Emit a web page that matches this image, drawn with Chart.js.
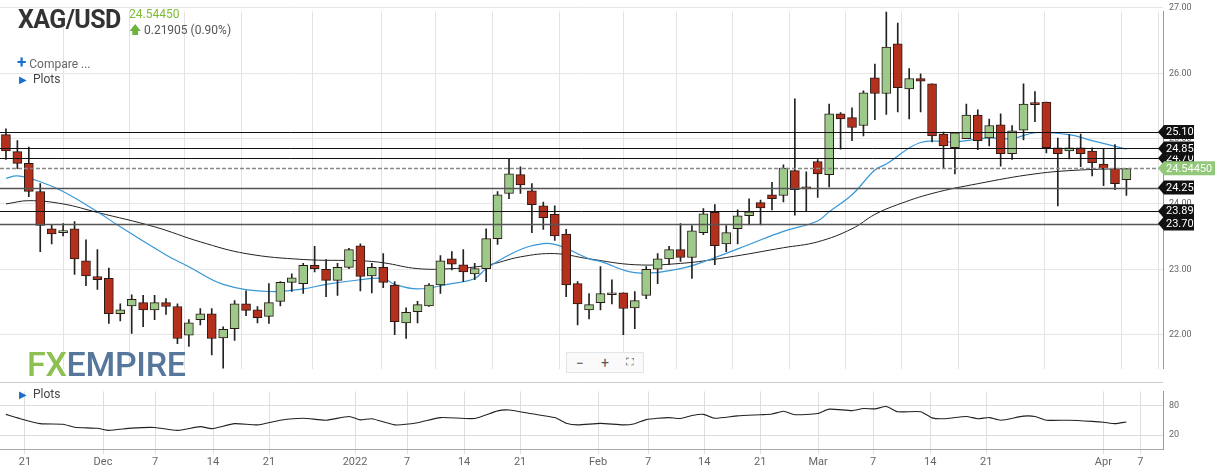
<!DOCTYPE html>
<html><head><meta charset="utf-8">
<script src="https://cdn.jsdelivr.net/npm/chart.js@4.4.1/dist/chart.umd.min.js"></script>
<style>
html,body{margin:0;padding:0;background:#fff;width:1216px;height:476px;overflow:hidden;font-family:Roboto,"Noto Sans",sans-serif;}
#wrap{position:relative;width:1216px;height:476px;}
#main{position:absolute;left:0;top:0;}
#osc{position:absolute;left:0;top:380px;}
.abs{position:absolute;white-space:nowrap;}
</style></head><body>
<div id="wrap">
<canvas id="main" width="1216" height="380"></canvas>
<canvas id="osc" width="1216" height="96"></canvas>
<div class="abs" style="left:18px;top:5px;font-size:25px;font-weight:bold;color:#333;letter-spacing:-0.6px;">XAG/USD</div>
<div class="abs" style="left:129px;top:7px;font-size:12px;color:#7cbb34;">24.54450</div>
<div class="abs" style="left:129px;top:21px;font-size:12px;color:#555;"><span style="color:#6ab43c;">&#129093;</span> 0.21905 (0.90%)</div>
<div class="abs" style="left:17px;top:52px;font-size:12px;color:#666;"><span style="color:#1a6fd0;font-size:17px;font-weight:bold;">+</span> Compare ...</div>
<div class="abs" style="left:19px;top:72px;font-size:12px;color:#444;"><span style="color:#1a6fd0;font-size:10px;">&#9654;</span>&nbsp; Plots</div>
<div class="abs" style="left:19px;top:387px;font-size:12px;color:#444;"><span style="color:#1a6fd0;font-size:10px;">&#9654;</span>&nbsp; Plots</div>
<div class="abs" style="left:27px;top:344px;font-size:34px;font-weight:500;letter-spacing:-0.3px;"><span style="color:#8dc051;">FX</span><span style="color:#56779b;">EMPIRE</span></div>
<div class="abs" style="left:566px;top:352px;width:76px;height:19px;border:1px solid #e4e4e4;background:#fafafa;font-size:14px;color:#555;display:flex;justify-content:space-around;align-items:center;"><span>&minus;</span><span>+</span><span style="font-size:11px;">&#x26F6;</span></div>
</div>
<script>
const opens=[25.06,24.80,24.62,24.19,23.62,23.56,23.62,23.13,22.89,22.86,22.32,22.44,22.49,22.38,22.49,22.43,21.99,22.23,22.32,21.95,22.09,22.47,22.38,22.28,22.51,22.80,22.78,23.06,23.00,22.83,23.03,23.36,22.90,23.03,22.76,22.18,22.35,22.44,22.76,23.16,23.07,22.93,23.01,23.47,24.16,24.45,24.20,23.97,23.84,23.54,22.78,22.38,22.49,22.61,22.64,22.41,22.60,23.00,23.16,23.30,23.18,23.56,23.87,23.39,23.62,23.82,24.02,24.14,24.13,24.51,24.25,24.65,24.45,25.38,25.32,25.20,25.93,25.69,26.45,25.76,25.92,25.84,25.07,24.86,25.00,25.36,25.01,25.21,24.77,25.13,25.55,25.56,24.86,24.81,24.86,24.81,24.61,24.54,24.37];
const highs=[25.15,24.97,24.87,24.31,23.68,23.70,23.73,23.45,23.30,23.02,22.47,22.61,22.60,22.60,22.55,22.47,22.23,22.40,22.40,22.12,22.52,22.67,22.43,22.78,22.81,22.93,23.09,23.35,23.15,23.09,23.32,23.39,23.09,23.24,22.81,22.41,22.51,22.78,23.21,23.27,23.30,23.09,23.62,24.19,24.69,24.57,24.31,24.03,23.97,23.61,22.81,22.63,23.04,22.84,22.64,22.66,23.04,23.24,23.35,23.70,23.67,23.93,23.99,23.67,23.91,24.08,24.06,24.33,24.60,25.61,24.49,24.68,25.53,25.40,25.47,25.73,26.14,26.94,26.77,26.07,25.99,25.84,25.10,25.09,25.53,25.44,25.30,25.38,25.20,25.84,25.72,25.56,25.01,25.06,25.07,24.86,24.84,24.91,24.54];
const lows=[24.68,24.54,24.11,23.27,23.39,23.51,22.92,22.75,22.69,22.17,22.21,22.02,22.12,22.23,22.31,21.86,21.82,22.15,21.69,21.40,21.91,22.29,22.18,22.17,22.44,22.66,22.63,22.96,22.58,22.60,23.01,22.67,22.64,22.72,22.00,21.94,22.18,22.43,22.63,22.99,22.81,22.84,22.81,23.38,24.08,24.16,23.56,23.61,23.44,22.58,22.15,22.24,22.38,22.47,22.00,22.09,22.55,22.78,23.07,23.12,22.86,23.53,23.07,23.27,23.39,23.68,23.68,23.91,24.03,23.83,23.88,24.10,24.26,24.84,24.97,25.04,25.29,25.37,25.41,25.30,25.41,24.95,24.54,24.46,25.00,24.83,24.89,24.58,24.68,24.98,25.26,24.78,23.97,24.69,24.57,24.43,24.28,24.22,24.13];
const closes=[24.81,24.62,24.19,23.67,23.54,23.59,23.16,22.90,22.84,22.32,22.38,22.54,22.38,22.49,22.43,21.94,22.18,22.32,21.94,22.08,22.47,22.37,22.26,22.49,22.80,22.87,23.06,23.01,22.83,23.03,23.30,22.89,23.03,22.80,22.20,22.34,22.46,22.76,23.13,23.08,22.96,23.01,23.47,24.14,24.46,24.29,23.99,23.79,23.51,22.76,22.47,22.46,22.63,22.64,22.40,22.52,23.00,23.16,23.30,23.18,23.59,23.85,23.36,23.56,23.82,23.88,23.94,24.08,24.55,24.22,24.23,24.46,25.38,25.30,25.17,25.70,25.69,26.40,25.78,25.92,25.88,25.04,24.89,25.09,25.36,24.97,25.20,24.77,25.12,25.53,25.52,24.86,24.77,24.86,24.77,24.63,24.54,24.31,24.54];
const ma20Idx=[0,1,3,5,8,10,14,16,19,23,26,28,31,33,34,36,39,41,42,44,46,48,51,52,55,59,62,65,68,71,72,74,76,77,80,83,86,88,90,93,95,98];
const ma20Val=[24.39,24.43,24.34,24.19,23.88,23.65,23.22,23.04,22.77,22.66,22.70,22.77,22.84,22.86,22.77,22.70,22.78,22.86,23.01,23.22,23.36,23.38,23.16,23.12,22.95,23.01,23.18,23.38,23.58,23.74,23.88,24.14,24.52,24.61,24.94,24.95,25.01,25.00,25.09,25.06,24.97,24.84];
const ma50Idx=[0,2,5,8,13,17,21,26,31,33,36,39,42,45,48,51,55,59,63,68,71,74,76,78,81,85,90,94,98];
const ma50Val=[24.00,24.05,24.00,23.87,23.65,23.42,23.24,23.15,23.13,23.10,23.01,23.01,23.06,23.19,23.24,23.16,23.07,23.09,23.18,23.33,23.42,23.62,23.84,23.99,24.16,24.31,24.46,24.52,24.54];
const oscIdx=[0,1,3,5,6,8,9,11,13,15,17,18,20,22,24,26,28,30,31,32,34,36,38,41,43,44,46,48,49,50,52,54,55,56,57,58,59,60,61,62,64,66,67,68,69,71,72,74,75,76,77,78,80,81,82,84,85,86,87,89,90,91,93,95,96,97,98];
const oscVal=[61.8,54.7,43,41.7,35.9,33.6,29.4,34,35.3,29.4,37,33,43,40.6,50,54,50,57.6,50.6,53,40.6,44.7,55.3,53.5,68.8,70.6,62.9,55.3,44,40.6,43.5,40.6,43,51.2,54,55.3,53.5,59.4,61.8,54,58.8,61.1,62.4,68.2,61.1,63.5,72.4,69.4,73.5,72.9,77.6,67.1,67.1,54.7,53,57.6,53,55.3,50,58.2,57.6,50,50,47.6,45.9,43,46.5];
const levels=[25.10,24.85,24.70,24.25,23.89,23.70];
const lastPrice=24.5445;
const priceTicks=[22,23,24,25,26,27];
const oscTicks=[20,80];
const xTickPos=[1.66,8.49,13.04,18.11,23.01,30.53,35.08,40.07,44.97,51.79,56.17,61.07,65.97,71.04,75.85,80.84,85.74,95.98,99.21];
const xTickLabels=['21','Dec','7','14','21','2022','7','14','21','Feb','7','14','21','Mar','7','14','21','Apr','7'];

const XMIN=-0.52, XMAX=101.2, AXW=53;
const RED='#b3301c', GREEN='#9dca8a';
const cols=opens.map((o,i)=>closes[i]>=o?GREEN:RED);
const bodies=opens.map((o,i)=>({x:i,y:[o,closes[i]]}));
const wicks=lows.map((l,i)=>({x:i,y:[l,highs[i]]}));
const pts=(idx,val)=>idx.map((k,j)=>({x:k,y:val[j]}));
const fitW=s=>{s.width=AXW;};

const tagPlugin={id:'tags',afterDraw(c){
  const ctx=c.ctx,y=c.scales.y,L=c.chartArea.left,R=c.chartArea.right;
  ctx.save();
  const line=(v,col,w,dash)=>{const p=Math.round(y.getPixelForValue(v))+0.5;ctx.beginPath();ctx.setLineDash(dash||[]);ctx.strokeStyle=col;ctx.lineWidth=w;ctx.moveTo(L,p);ctx.lineTo(R,p);ctx.stroke();ctx.setLineDash([]);};
  const tag=(v,txt,bg,w)=>{const p=y.getPixelForValue(v);ctx.fillStyle=bg;ctx.beginPath();ctx.moveTo(R-5,p);ctx.lineTo(R+1,p-7);ctx.lineTo(R+w,p-7);ctx.lineTo(R+w,p+7);ctx.lineTo(R+1,p+7);ctx.closePath();ctx.fill();ctx.fillStyle='#fff';ctx.font='11px Roboto, sans-serif';ctx.textBaseline='middle';ctx.fillText(txt,R+3,p+0.5);};
  levels.forEach(v=>{const g=(v===24.25||v===23.70);line(v,g?'#555':'#111',g?1.6:1);});
  line(lastPrice,'#888',1.4,[4,2]);
  tag(24.70,'24.70','#111',31);
  [25.10,24.85,23.89,23.70,24.25].forEach(v=>tag(v,v.toFixed(2),'#111',31));
  tag(lastPrice,'24.54450','#92c87a',52);
  ctx.restore();
}};

new Chart(document.getElementById('main'),{
  type:'bar',
  data:{datasets:[
    {type:'line',data:pts(ma20Idx,ma20Val),borderColor:'#3797d6',borderWidth:1.2,pointRadius:0,tension:0.4,order:3},
    {type:'line',data:pts(ma50Idx,ma50Val),borderColor:'#222',borderWidth:1,pointRadius:0,tension:0.4,order:4},
    {data:bodies,backgroundColor:cols,borderColor:'#2a1a15',borderWidth:1,borderSkipped:false,barThickness:9,minBarLength:2,grouped:false,order:0},
    {data:wicks,backgroundColor:'#222',borderWidth:0,barThickness:1,grouped:false,order:1}
  ]},
  options:{responsive:false,animation:false,events:[],layout:{padding:0},
    plugins:{legend:{display:false},tooltip:{enabled:false}},
    scales:{
      x:{type:'linear',min:XMIN,max:XMAX,offset:false,afterBuildTicks:s=>{s.ticks=xTickPos.map(v=>({value:v}));},
         ticks:{display:false},grid:{color:'#e3e3e3',drawTicks:false},border:{display:false}},
      y:{position:'right',min:21.48,max:26.947,afterFit:fitW,afterBuildTicks:s=>{s.ticks=priceTicks.map(v=>({value:v}));},
         ticks:{callback:v=>v.toFixed(2),color:'#666',font:{size:9,family:'Roboto'},padding:6},
         grid:{color:'#e6e6e6',drawTicks:false},border:{display:true,color:'#999'}}
    }},
  plugins:[tagPlugin]
});

new Chart(document.getElementById('osc'),{
  type:'line',
  data:{datasets:[{data:pts(oscIdx,oscVal),borderColor:'#222',borderWidth:1.1,pointRadius:0,tension:0.2}]},
  options:{responsive:false,animation:false,events:[],layout:{padding:{top:3,left:0,right:0,bottom:0}},
    plugins:{legend:{display:false},tooltip:{enabled:false}},
    scales:{
      x:{type:'linear',min:XMIN,max:XMAX,afterBuildTicks:s=>{s.ticks=xTickPos.map(v=>({value:v}));},
         afterFit:s=>{s.height=27;},
         ticks:{callback:(v,i)=>xTickLabels[i],color:'#666',font:{size:11,family:'Roboto'},maxRotation:0,autoSkip:false,padding:2},
         grid:{color:'#dedede',tickLength:5},border:{display:true,color:'#aaa'}},
      y:{position:'right',min:-8.2,max:108.2,afterFit:fitW,afterBuildTicks:s=>{s.ticks=oscTicks.map(v=>({value:v}));},
         ticks:{color:'#666',font:{size:9,family:'Roboto'},padding:6},
         grid:{color:'#dcdcdc',drawTicks:false},border:{display:true,color:'#999'}}
    }},
  plugins:[{id:'topline',afterDraw(c){const ctx=c.ctx;ctx.save();ctx.strokeStyle='#ccc';ctx.beginPath();ctx.moveTo(0,2.5);ctx.lineTo(c.chartArea.right,2.5);ctx.stroke();ctx.restore();}}]
});
</script>
</body></html>
